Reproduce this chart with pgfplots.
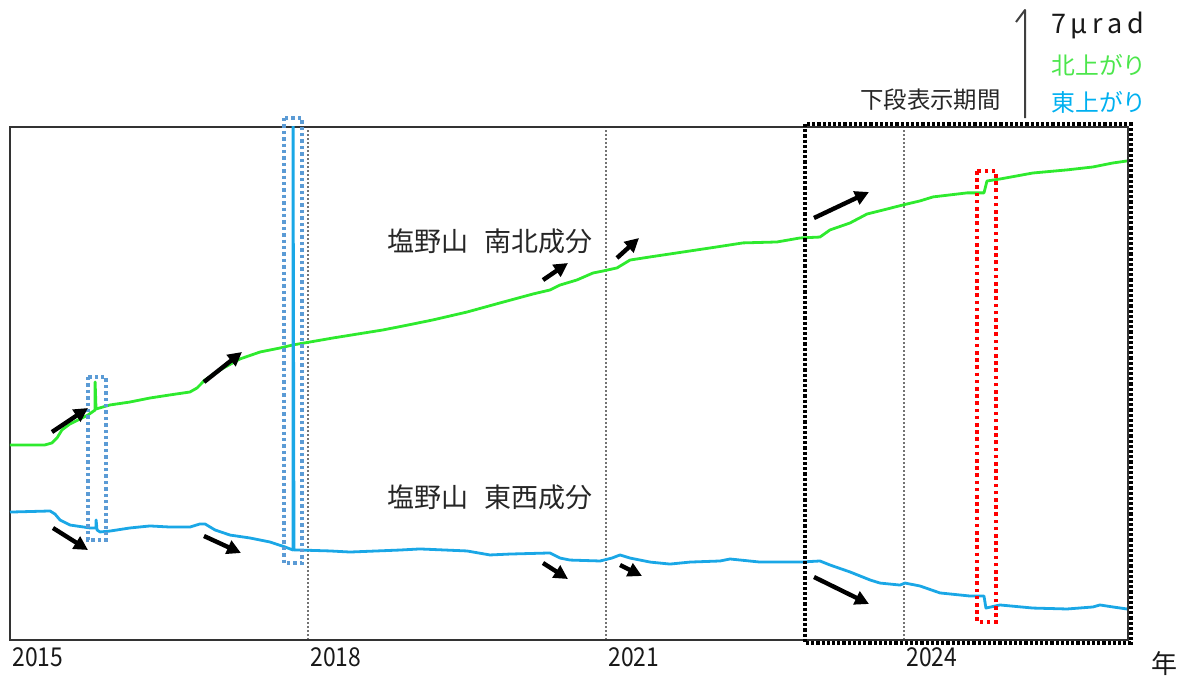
\documentclass[border=0pt]{standalone}
\usepackage{fontspec}
\setmainfont{Noto Sans CJK JP}
\usepackage{pgfplots}
\pgfplotsset{compat=1.18}
\usetikzlibrary{arrows.meta}
\definecolor{ngreen}{HTML}{2EEA2E}
\definecolor{eblue}{HTML}{1AA7E6}
\definecolor{boxblue}{HTML}{5B9BD5}
\definecolor{lblgreen}{HTML}{4CE64C}
\definecolor{lblblue}{HTML}{00B0F0}

\pgfplotstableread{
x y
2015.000 12.64
2015.352 12.64
2015.423 12.77
2015.473 13.09
2015.523 13.61
2015.604 14.00
2015.705 14.32
2015.785 14.58
2015.856 14.90
2015.857 16.72
2015.866 14.97
2016.007 15.23
2016.208 15.42
2016.409 15.68
2016.611 15.88
2016.812 16.07
2016.883 16.33
2016.963 16.85
2017.114 17.50
2017.315 18.21
2017.517 18.66
2017.718 18.92
2017.849 19.12
2018.020 19.31
2018.252 19.57
2018.503 19.83
2018.755 20.09
2019.007 20.41
2019.258 20.74
2019.600 21.25
2019.933 21.84
2020.265 22.42
2020.436 22.68
2020.537 23.00
2020.708 23.33
2020.869 23.78
2020.970 23.91
2021.111 24.11
2021.242 24.62
2021.443 24.82
2021.775 25.14
2022.117 25.47
2022.379 25.73
2022.721 25.79
2022.953 26.05
2023.154 26.11
2023.255 26.57
2023.456 27.02
2023.627 27.60
2023.789 27.86
2023.990 28.19
2024.161 28.45
2024.292 28.71
2024.634 28.97
2024.805 28.97
2024.835 29.74
2024.966 29.87
2025.298 30.26
2025.641 30.46
2025.902 30.65
2026.104 30.91
2026.245 31.04
}\northsouth

\pgfplotstableread{
x y
2015.000 8.29
2015.403 8.36
2015.453 8.16
2015.503 7.78
2015.604 7.45
2015.805 7.26
2015.866 7.26
2015.867 7.78
2015.876 7.13
2015.906 7.00
2016.007 7.06
2016.208 7.26
2016.409 7.39
2016.611 7.32
2016.812 7.32
2016.913 7.52
2016.963 7.52
2017.064 7.13
2017.215 6.80
2017.416 6.61
2017.617 6.35
2017.768 6.03
2017.849 5.83
2017.850 33.30
2017.859 5.83
2017.919 5.83
2018.222 5.77
2018.423 5.70
2018.926 5.83
2019.127 5.90
2019.600 5.77
2019.832 5.51
2020.034 5.57
2020.436 5.64
2020.537 5.31
2020.638 5.18
2020.940 5.12
2021.060 5.31
2021.141 5.51
2021.242 5.31
2021.443 5.05
2021.644 4.92
2021.846 5.05
2022.148 5.12
2022.248 5.25
2022.550 5.05
2022.953 5.05
2023.154 5.12
2023.255 4.86
2023.456 4.41
2023.658 3.89
2023.758 3.69
2023.960 3.56
2024.010 3.69
2024.161 3.50
2024.362 3.05
2024.664 2.85
2024.805 2.85
2024.825 2.07
2024.966 2.27
2025.298 2.07
2025.641 2.01
2025.902 2.14
2025.972 2.27
2026.104 2.14
2026.245 2.01
}\eastwest

\begin{document}
\begin{tikzpicture}
\path[use as bounding box] (-5pt,-18.5pt) rectangle (587pt,320pt);
\begin{axis}[
  at={(0pt,0pt)}, anchor=south west,
  scale only axis, width=559pt, height=256.5pt,
  xmin=2015, xmax=2026.255, ymin=0, ymax=33.24,
  axis line style={draw=black!80, line width=0.8pt},
  xtick={2015,2018,2021,2024},
  xticklabels={\scalebox{0.88}[1]{2015},\scalebox{0.88}[1]{2018},\scalebox{0.88}[1]{2021},\scalebox{0.88}[1]{2024}},
  xticklabel style={anchor=north west, inner sep=0pt, yshift=-3.5pt, xshift=1pt, font=\fontsize{13}{13}\selectfont, text=black!90},
  major tick length=0pt,
  ytick=\empty,
  xmajorgrids, grid style={black!55, line width=1pt, dash pattern=on 1pt off 1pt},
]
\addplot[ngreen, line width=1.4pt, line join=round] table[x=x,y=y] {\northsouth};
\addplot[eblue, line width=1.4pt, line join=round] table[x=x,y=y] {\eastwest};
\end{axis}
\begin{scope}[shift={(-5pt,320pt)}, x=0.5pt, y=-0.5pt]
  % dotted boxes
  \draw[black, line width=1.6pt, dash pattern=on 1.6pt off 1pt] (805,124) rectangle (1131,643);
  \draw[boxblue, line width=1.7pt, dash pattern=on 1.7pt off 1.5pt] (88,377) rectangle (106,540);
  \draw[boxblue, line width=1.7pt, dash pattern=on 1.7pt off 1.5pt] (284,118) rectangle (302,563);
  \draw[red, line width=1.8pt, dash pattern=on 1.8pt off 1.8pt] (977,171) rectangle (996,622);
  % arrows
  \begin{scope}[black, line width=2.2pt, -{Triangle[length=7pt,width=7pt]}]
    \draw (52,432) -- (88,408);
    \draw (204,382) -- (242,352);
    \draw (543,280) -- (568,263);
    \draw (617,258) -- (639,238);
    \draw (814,218) -- (869,192);
    \draw (53,528) -- (88,550);
    \draw (204,536) -- (241,553);
    \draw (543,563) -- (568,579);
    \draw (620,565) -- (642,576);
    \draw (814,577) -- (869,604);
  \end{scope}
  % labels
  \node[inner sep=0pt, text=black!85, font=\fontsize{13.5}{13.5}\selectfont] at (490,241) {塩野山\hspace{8pt}南北成分};
  \node[inner sep=0pt, text=black!85, font=\fontsize{13.5}{13.5}\selectfont] at (490,497) {塩野山\hspace{8pt}東西成分};
  \node[inner sep=0pt, anchor=east, text=black!85, font=\fontsize{11.7}{11.7}\selectfont] at (1001,100) {下段表示期間};
  \node[inner sep=0pt, anchor=west, text=lblgreen, font=\fontsize{11.9}{11.9}\selectfont] at (1051,65) {北上がり};
  \node[inner sep=0pt, anchor=west, text=lblblue, font=\fontsize{11.9}{11.9}\selectfont] at (1051,102) {東上がり};
  \node[inner sep=0pt, anchor=west, text=black!90, font=\fontsize{13.5}{13.5}\selectfont] at (1051,25) {7\,μ\,r\,a\,d};
  \node[inner sep=0pt, text=black!90, font=\fontsize{13}{13}\selectfont] at (1164,664) {年};
  % scale bar
  \draw[black!75, line width=1pt, line join=round] (1016,22) -- (1025,10) -- (1025,118);
\end{scope}
\end{tikzpicture}
\end{document}
